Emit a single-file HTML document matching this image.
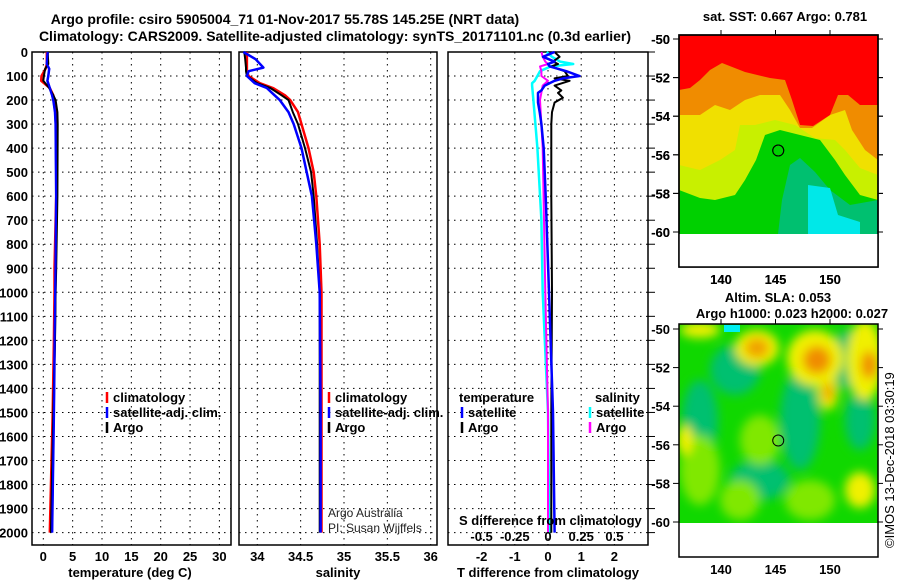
<!DOCTYPE html>
<html><head><meta charset="utf-8"><style>
html,body{margin:0;padding:0;background:#fff;}
svg{display:block;font-family:"Liberation Sans",sans-serif;}
.b{font-weight:bold;font-size:13px;}
.t{font-weight:bold;font-size:14px;}
</style></head><body>
<svg id="fig" width="900" height="580" viewBox="0 0 900 580" xmlns="http://www.w3.org/2000/svg">
<defs>
<filter id="blur" x="-20%" y="-20%" width="140%" height="140%"><feGaussianBlur stdDeviation="5"/></filter>
<clipPath id="c1"><rect x="679" y="35" width="199" height="199"/></clipPath>
<clipPath id="c2"><rect x="679" y="324" width="199" height="199"/></clipPath>
</defs>
<text class="t" x="285" y="24" text-anchor="middle">Argo profile: csiro 5905004_71 01-Nov-2017 55.78S 145.25E (NRT data)</text>
<text class="t" x="335" y="41" text-anchor="middle">Climatology: CARS2009. Satellite-adjusted climatology: synTS_20171101.nc (0.3d earlier)</text>
<g id="plots"></g>
</svg>
<script>
// depth levels (dbar)
const depthTicks = [0,100,200,300,400,500,600,700,800,900,1000,1100,1200,1300,1400,1500,1600,1700,1800,1900,2000];
const tempTicks = [0,5,10,15,20,25,30];
const salTicks = [34,34.5,35,35.5,36];
const salTickLabels = ["34","34.5","35","35.5","36"];
const tdiffTicks = [-2,-1,0,1,2];
const sdiffTicks = [-0.5,-0.25,0,0.25,0.5];
const sdiffTickLabels = ["-0.5","-0.25","0","0.25","0.5"];

const tempDepth = [0,50,70,100,120,150,180,200,250,300,600,900,1000,1200,1500,2000];
const tempClim  = [0.6,0.6,0.4,-0.3,-0.35,1.1,1.7,1.85,2.1,2.2,2.2,1.9,1.9,1.8,1.6,1.1];
const tempSat   = [0.75,0.6,1.0,0.85,0.7,1.1,1.5,1.7,2.0,2.1,2.2,2.1,2.05,1.95,1.8,1.5];
const tempArgo  = [0.75,0.85,0.3,0.1,0.0,1.0,1.7,2.1,2.4,2.45,2.4,2.2,2.1,2.0,1.7,1.3];

const salDepth = [0,30,65,80,100,130,150,180,200,250,300,400,500,600,800,1000,1500,2000];
const salClim  = [33.88,33.88,33.88,33.88,33.9,34.03,34.18,34.32,34.38,34.47,34.51,34.59,34.65,34.68,34.72,34.74,34.74,34.74];
const salSat   = [33.84,33.98,34.07,33.9,33.88,33.97,34.11,34.2,34.26,34.36,34.42,34.51,34.57,34.63,34.68,34.72,34.73,34.73];
const salArgo  = [33.85,33.86,33.87,33.87,33.88,34.0,34.15,34.28,34.36,34.41,34.47,34.55,34.62,34.65,34.69,34.72,34.72,34.72];

const tdDepth   = [0,20,40,50,60,80,100,110,120,140,160,170,190,210,250,300,400,600,1000,1500,2000];
const tdArgo    = [0.2,0.35,0.15,0.3,0.1,0.5,0.6,0.2,0.65,0.2,0.4,0.3,0.45,0.2,0.12,0.1,0.1,0.1,0.12,0.1,0.1];
const tdSat     = [0.2,-0.15,0.2,0.0,0.05,0.55,0.95,0.45,0.2,-0.1,-0.2,-0.3,-0.3,-0.3,-0.25,-0.2,-0.13,-0.07,0.03,0.15,0.2];
const sdDepth   = [0,20,40,50,60,80,100,120,130,140,200,400,700,1000,1500,2000];
const sdSat     = [-0.01,0.03,0.09,0.19,0.02,-0.06,-0.08,-0.1,-0.12,-0.12,-0.11,-0.08,-0.05,-0.04,0.0,0.01];
const sdArgo    = [-0.05,-0.04,-0.02,0.0,-0.06,-0.05,-0.05,0.0,-0.02,-0.04,-0.06,-0.04,-0.03,-0.02,0.0,0.0];

const NS="http://www.w3.org/2000/svg";
const G=document.getElementById('plots');
function el(tag,attrs,parent,txt){const e=document.createElementNS(NS,tag);for(const k in attrs)e.setAttribute(k,attrs[k]);if(txt!==undefined)e.textContent=txt;(parent||G).appendChild(e);return e;}
const Y0=52, PY=0.2403, YB=545;
const yD=d=>Y0+d*PY;
const xT=v=>43.3+v*5.87;
const xS=v=>257.3+(v-34)*86.7;
const xTD=v=>548+v*33.2;
const xSD=v=>548+v*132.8;

function panel(x0,x1,name){
  const r=el('rect',{x:x0,y:Y0,width:x1-x0,height:YB-Y0,fill:'none',stroke:'#000','stroke-width':1.5});
  
  
  depthTicks.forEach(d=>{
    const l=el('line',{x1:x0,x2:x1,y1:yD(d),y2:yD(d),stroke:'#000','stroke-dasharray':'1.5,4.5','stroke-width':1});
    
    
  });
}
function vgrid(ticks,fx,name){
  ticks.forEach(t=>{
    const l=el('line',{x1:fx(t),x2:fx(t),y1:Y0,y2:YB,stroke:'#000','stroke-dasharray':'1.5,4.5','stroke-width':1});
    
    
  });
}
function line(depths,vals,fx,color,name,w){
  const pts=depths.map((d,i)=>fx(vals[i]).toFixed(1)+','+yD(d).toFixed(1)).join(' ');
  const p=el('polyline',{points:pts,fill:'none',stroke:color,'stroke-width':w||2.5,'stroke-linejoin':'round'});
  
  
}
function xlabels(ticks,labels,fx,y,name,cls){
  ticks.forEach((t,i)=>{
    const e=el('text',{x:fx(t),y:y,'text-anchor':'middle','class':cls||'b'},G,labels?labels[i]:String(t));
    
    
  });
}
function txt(x,y,s,name,extra){
  const e=el('text',Object.assign({x:x,y:y,'class':'b'},extra||{}),G,s);
  
  
  return e;
}
function legendMark(x,y,color,name){
  const l=el('line',{x1:x,x2:x,y1:y-11,y2:y,stroke:color,'stroke-width':2.5});
  
  
}

// Panel 1 temperature
panel(32,231,'temperature-panel');
vgrid(tempTicks,xT,'temperature-gridline');
depthTicks.forEach(d=>{const e=txt(28,yD(d)+5,String(d),'depth-tick-label',{'text-anchor':'end'});});
line(tempDepth,tempClim,xT,'#ff0000','temperature-climatology-line');
line(tempDepth,tempSat,xT,'#0000ff','temperature-satellite-line');
line(tempDepth,tempArgo,xT,'#000000','temperature-argo-line',2);
line(tempDepth,tempSat,xT,'#0000ff','temperature-satellite-line-top',2);
xlabels(tempTicks,null,xT,561,'temperature-tick-label');
txt(130,577,'temperature (deg C)','temperature-axis-title',{'text-anchor':'middle'});
legendMark(107,403,'#ff0000','legend-climatology-marker'); txt(113,402,'climatology','legend-climatology');
legendMark(107,418,'#0000ff','legend-satellite-marker'); txt(113,417,'satellite-adj. clim.','legend-satellite-adj');
legendMark(107,433,'#000','legend-argo-marker'); txt(113,432,'Argo','legend-argo');

// Panel 2 salinity
panel(239,437,'salinity-panel');
vgrid(salTicks,xS,'salinity-gridline');
line(salDepth,salClim,xS,'#ff0000','salinity-climatology-line');
line(salDepth,salArgo,xS,'#000000','salinity-argo-line',2);
line(salDepth,salSat,xS,'#0000ff','salinity-satellite-line');
xlabels(salTicks,salTickLabels,xS,561,'salinity-tick-label');
txt(338,577,'salinity','salinity-axis-title',{'text-anchor':'middle'});
legendMark(329,403,'#ff0000','legend2-climatology-marker'); txt(335,402,'climatology','legend2-climatology');
legendMark(329,418,'#0000ff','legend2-satellite-marker'); txt(335,417,'satellite-adj. clim.','legend2-satellite-adj');
legendMark(329,433,'#000','legend2-argo-marker'); txt(335,432,'Argo','legend2-argo');
txt(328,517,'Argo Australia','credit-argo-australia',{'class':'','font-size':'12','fill':'#222'});
txt(328,532,'PI: Susan Wijffels','credit-pi',{'class':'','font-size':'12','fill':'#222'});

// Panel 3 differences
panel(448,648,'difference-panel');
vgrid(tdiffTicks,xTD,'difference-gridline');
depthTicks.forEach(d=>{const l=el('line',{x1:648,x2:655,y1:yD(d),y2:yD(d),stroke:'#000','stroke-width':1});
  
  });
line(sdDepth,sdSat,xSD,'#00ffff','s-diff-satellite-line');
line(sdDepth,sdArgo,xSD,'#ff00ff','s-diff-argo-line',2);
line(tdDepth,tdArgo,xTD,'#000000','t-diff-argo-line',2);
line(tdDepth,tdSat,xTD,'#0000ff','t-diff-satellite-line');
xlabels(tdiffTicks,null,xTD,561,'t-diff-tick-label');
txt(548,577,'T difference from climatology','t-diff-axis-title',{'text-anchor':'middle'});
txt(459,525,'S difference from climatology','s-diff-axis-title');
xlabels(sdiffTicks,sdiffTickLabels,xSD,541,'s-diff-tick-label');
txt(459,402,'temperature','legend3-temperature-heading');
legendMark(462,418,'#0000ff','legend3-t-satellite-marker'); txt(468,417,'satellite','legend3-t-satellite');
legendMark(462,433,'#000','legend3-t-argo-marker'); txt(468,432,'Argo','legend3-t-argo');
txt(595,402,'salinity','legend3-salinity-heading');
legendMark(590,418,'#00ffff','legend3-s-satellite-marker'); txt(596,417,'satellite','legend3-s-satellite');
legendMark(590,433,'#ff00ff','legend3-s-argo-marker'); txt(596,432,'Argo','legend3-s-argo');

// ---- Maps ----
const latTicks=[-50,-52,-54,-56,-58,-60];
const lonTicks=[140,145,150];
const xL=v=>721+(v-140)*10.9;
function mapFrame(top,bottom,y50,name){
  const r=el('rect',{x:679,y:top,width:199,height:bottom-top,fill:'none',stroke:'#000','stroke-width':1.5});
  
  
  latTicks.forEach(l=>{const y=y50+(-50-l)*19.3;
    const t=el('line',{x1:673,x2:679,y1:y,y2:y,stroke:'#000'});
     
    const t2=el('line',{x1:878,x2:883,y1:y,y2:y,stroke:'#000'});
     
    txt(670,y+5,String(l),'lat-tick-label',{'text-anchor':'end'});});
  lonTicks.forEach(v=>{
    const t=el('line',{x1:xL(v),x2:xL(v),y1:top-5,y2:top,stroke:'#000'});
     
    txt(xL(v),bottom+17,String(v),'lon-tick-label',{'text-anchor':'middle'});});
  const c=el('circle',{cx:xL(145.25),cy:y50+5.78*19.3,r:5.5,fill:'none',stroke:'#000','stroke-width':1});
  
  
}
// map1 SST
const g1=el('g',{'clip-path':'url(#c1)'});
 
const m1=[
 ['#00c070','679,35 878,35 878,234 679,234'],
 ['#00d000','679,35 878,35 878,200 850,205 830,190 815,172 800,158 790,165 782,200 778,234 679,234'],
 ['#00e8e8','808,185 830,188 838,215 860,222 860,234 808,234'],
 ['#c8f000','679,35 878,35 878,200 860,195 845,175 835,160 820,140 800,135 780,130 765,135 756,160 745,180 735,195 715,200 700,198 679,190'],
 ['#f0e000','679,35 878,35 878,175 860,168 845,150 835,140 815,138 795,125 775,120 755,125 740,125 735,150 720,160 700,170 679,165'],
 ['#f08c00','679,35 878,35 878,160 865,150 852,130 845,110 830,115 812,128 800,128 790,110 780,95 760,95 745,100 730,110 715,105 700,115 679,115'],
 ['#ff0000','679,35 878,35 878,105 860,105 848,95 838,95 830,115 813,126 800,125 792,100 785,80 770,78 745,72 722,63 710,70 700,80 690,88 679,90']
];
m1.forEach(([c,p])=>{const e=el('polygon',{points:p,fill:c},g1);});
mapFrame(35,267,39,'sst-map-frame');
txt(785,21,'sat. SST: 0.667 Argo: 0.781','sst-map-title',{'text-anchor':'middle'});

// map2 SLA
const g2=el('g',{'clip-path':'url(#c2)'});
 
const bg=el('rect',{x:679,y:324,width:199,height:199,fill:'#10d800'},g2);
 
const blobs=el('g',{filter:'url(#blur)'},g2);
const b2=[
 ['#00c070',700,420,18,40],['#00c070',735,370,25,25],['#00c070',800,420,20,50],['#00c070',850,360,20,30],['#00c070',860,420,15,30],['#00c070',760,480,30,20],
 ['#80e800',700,470,20,35],['#80e800',760,440,20,25],['#80e800',810,500,25,20],['#80e800',740,500,20,20],
 ['#f0f000',757,348,22,18],['#f0f000',815,358,28,28],['#f0f000',865,360,18,40],['#f0f000',828,392,10,18],['#f0f000',685,440,8,15],['#f0f000',860,490,15,18],['#f0f000',700,330,20,8],
 ['#f0a000',757,348,12,10],['#f08c00',817,360,14,14],['#f08c00',869,365,8,14],['#f0a000',828,392,5,10]
];
b2.forEach(([c,cx,cy,rx,ry])=>{const e=el('ellipse',{cx:cx,cy:cy,rx:rx,ry:ry,fill:c},blobs);});
const cy1=el('rect',{x:724,y:325,width:16,height:7,fill:'#00f0f0'},g2);
const wb=el('rect',{x:679,y:524,width:199,height:33,fill:'#fff'});
const wb1=el('rect',{x:679,y:234,width:199,height:33,fill:'#fff'});
mapFrame(324,557,329,'sla-map-frame');
mapFrame(35,267,39,'sst-map-frame-top');
txt(778,302,'Altim. SLA: 0.053','sla-map-title',{'text-anchor':'middle'});
txt(792,318,'Argo h1000: 0.023 h2000: 0.027','sla-map-subtitle',{'text-anchor':'middle'});
txt(0,0,'©IMOS 13-Dec-2018 03:30:19','timestamp',{'class':'','font-size':'13','transform':'translate(894,548) rotate(-90)'});
</script>
</body></html>
